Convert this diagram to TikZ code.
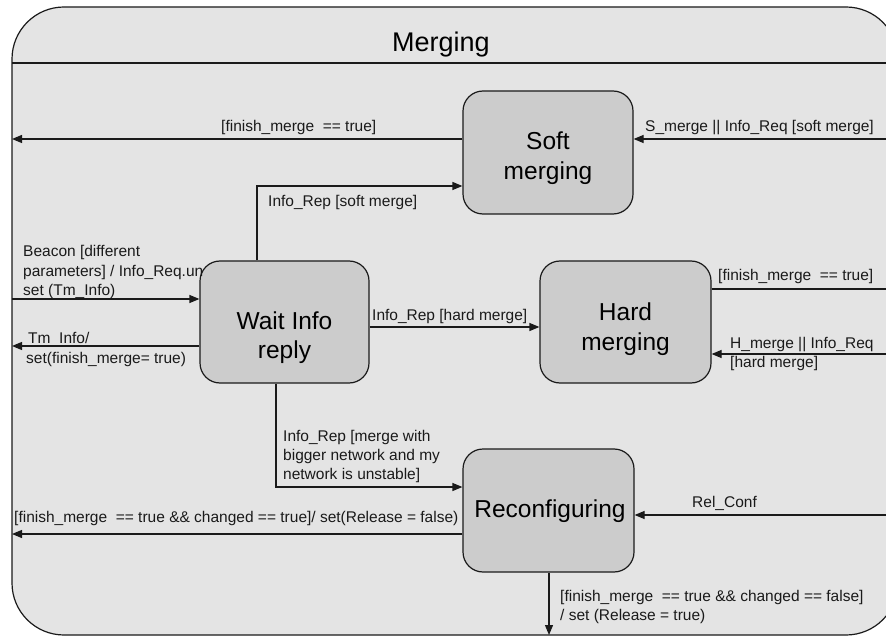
\documentclass[tikz,border=0pt]{standalone}
\usepackage{fontspec}
\setmainfont{Liberation Sans}
\usetikzlibrary{arrows.meta}
\definecolor{framefill}{HTML}{E4E4E4}
\definecolor{statefill}{HTML}{CCCCCC}
\definecolor{ink}{HTML}{1A1A1A}
\begin{document}
\begin{tikzpicture}[x=1pt,y=-1pt,
  state/.style={draw=ink, fill=statefill, line width=1.2pt, rounded corners=20pt,
    inner sep=0pt, minimum width=170pt, minimum height=122pt},
  statename/.style={anchor=base, inner sep=0pt, font=\fontsize{24.5}{29}\selectfont},
  lbl/.style={anchor=base west, inner sep=0pt, font=\fontsize{15.5}{19}\selectfont, text=ink},
  arr/.style={draw=ink, line width=1.2pt, -{Triangle[length=10pt,width=8pt]}},
  edge/.style={draw=ink, line width=1.2pt}]
\useasboundingbox (0,0) rectangle (886,636);
\clip (0,0) rectangle (886,636);

% composite state frame with its title compartment
\draw[draw=ink, fill=framefill, line width=1.2pt, rounded corners=52pt] (12,7) rectangle (898,635);
\draw[edge] (12,63) -- (898,63);
\node[anchor=base, inner sep=0pt, font=\fontsize{27}{32}\selectfont] (title) at (441,52) {Merging};

% states
\node[state, minimum width=170pt, minimum height=123pt] (soft) at (548,152.5) {};
\node[state, minimum width=169pt, minimum height=122pt] (wait) at (284.5,322) {};
\node[state, minimum width=171pt, minimum height=122pt] (hard) at (625.5,322) {};
\node[state, minimum width=171pt, minimum height=123pt] (reconf) at (548.5,510.5) {};

\node[statename] (softA) at (548,150) {Soft};
\node[statename] (softB) at (548,180) {merging};
\node[statename] (waitA) at (284.5,330) {Wait Info};
\node[statename] (waitB) at (284.5,358) {reply};
\node[statename] (hardA) at (625.5,320) {Hard};
\node[statename] (hardB) at (625.5,350) {merging};
\node[statename] (reconfA) at (550,517) {Reconfiguring};

% free ends of the transitions on the frame border
\coordinate (sL) at (12,139);
\coordinate (sR) at (898,139);
\coordinate (ws) at (257,186);
\coordinate (bL) at (12,299);
\coordinate (tL) at (12,346);
\coordinate (wh) at (370,327);
\coordinate (hR1) at (898,289);
\coordinate (hR2) at (898,354);
\coordinate (wr) at (276,487);
\coordinate (rL) at (12,534);
\coordinate (rR) at (898,515);
\coordinate (rD) at (549,635);

% transitions
\draw[arr] (soft.west |- sL) -- (sL);
\draw[arr] (sR) -- (soft.east |- sR);
\draw[arr] (wait.north -| ws) -- (ws) -- (soft.west |- ws);
\draw[arr] (bL) -- (wait.west |- bL);
\draw[arr] (wait.west |- tL) -- (tL);
\draw[arr] (wait.east |- wh) -- (hard.west |- wh);
\draw[arr] (hard.east |- hR1) -- (hR1);
\draw[arr] (hR2) -- (hard.east |- hR2);
\draw[arr] (wait.south -| wr) -- (wr) -- (reconf.west |- wr);
\draw[arr] (reconf.west |- rL) -- (rL);
\draw[arr] (rR) -- (reconf.east |- rR);
\draw[arr] (reconf.south -| rD) -- (rD);

% transition labels
\node[lbl] (l1) at (221,132) {[finish\_merge\ \ == true]};
\node[lbl] (l2) at (645,132) {S\_merge || Info\_Req [soft merge]};
\node[lbl] (l3) at (268,207) {Info\_Rep [soft merge]};
\node[lbl] (l4a) at (23,257) {Beacon [different};
\node[lbl] (l4b) at (23,277) {parameters] / Info\_Req.un};
\node[lbl] (l4c) at (23,296) {set (Tm\_Info)};
\node[lbl] (l5a) at (28,343) {Tm\_Info/};
\node[lbl] (l5b) at (26,363) {set(finish\_merge= true)};
\node[lbl] (l6) at (372,320) {Info\_Rep [hard merge]};
\node[lbl] (l7) at (718,281) {[finish\_merge\ \ == true]};
\node[lbl] (l8a) at (730,348) {H\_merge || Info\_Req};
\node[lbl] (l8b) at (730,367) {[hard merge]};
\node[lbl] (l9a) at (283,441) {Info\_Rep [merge with};
\node[lbl] (l9b) at (283,460) {bigger network and my};
\node[lbl] (l9c) at (283,479) {network is unstable]};
\node[lbl] (l10) at (14,522) {[finish\_merge\ \ == true \&\& changed == true]/ set(Release = false)};
\node[lbl] (l11) at (692,507) {Rel\_Conf};
\node[lbl] (l12a) at (560,601) {[finish\_merge\ \ == true \&\& changed == false]};
\node[lbl] (l12b) at (560,620) {/ set (Release = true)};
\end{tikzpicture}
\end{document}
